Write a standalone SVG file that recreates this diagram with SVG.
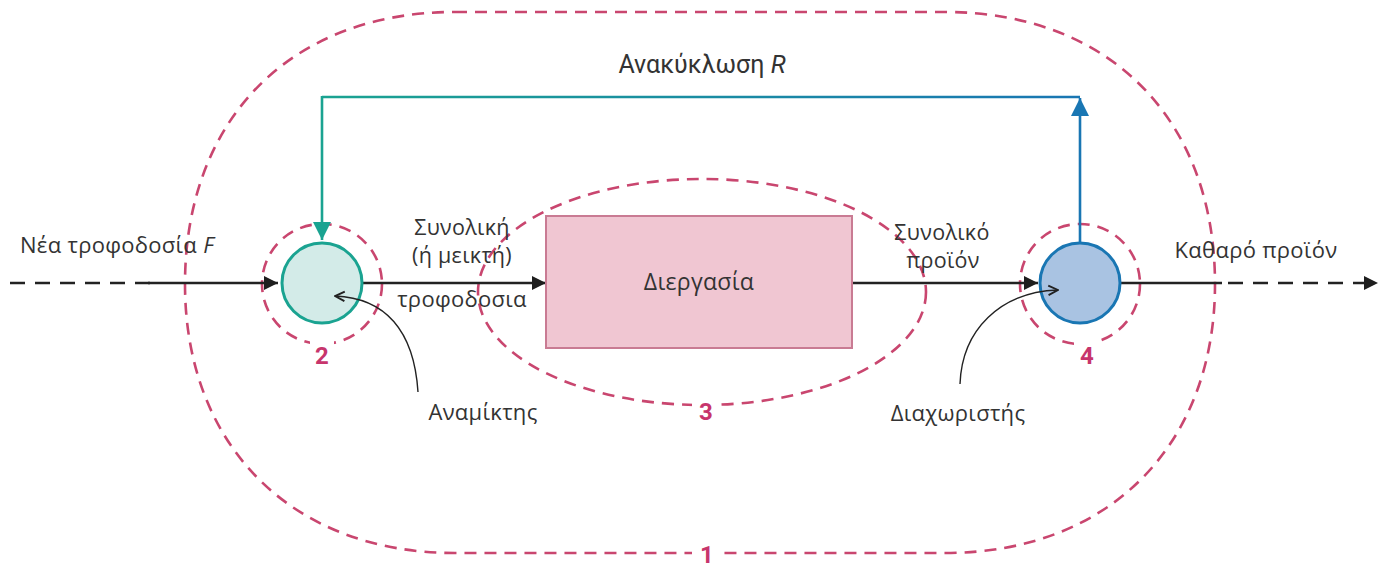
<svg xmlns="http://www.w3.org/2000/svg" width="1379" height="568" viewBox="0 0 1379 568">
<defs>
<style>
.bound{fill:none;stroke:#c9466f;stroke-width:2.6;stroke-dasharray:12 8}
.flow{fill:none;stroke:#222;stroke-width:2.6}
.dash{stroke-dasharray:15 10}
.lbl{font-family:"Open Sans",Roboto,"DejaVu Sans",sans-serif;font-size:22px;fill:#333;letter-spacing:0.3px}
.two{font-size:21.5px}
.num{font-family:Roboto,"DejaVu Sans",sans-serif;font-size:24px;font-weight:bold;fill:#c7356c;text-anchor:middle}
.thin{fill:none;stroke:#222;stroke-width:1.4}
</style>
<marker id="ah" viewBox="0 0 10 10" refX="10" refY="5" markerWidth="16" markerHeight="14" markerUnits="userSpaceOnUse" orient="auto"><path d="M0,0 L10,5 L0,10 Z" fill="#1e1e1e"/></marker>
<marker id="ahT" viewBox="0 0 10 10" refX="10" refY="5" markerWidth="30" markerHeight="18" markerUnits="userSpaceOnUse" orient="auto"><path d="M0,0 L10,5 L0,10 Z" fill="#1aa391"/></marker>
<marker id="ahB" viewBox="0 0 10 10" refX="10" refY="5" markerWidth="30" markerHeight="18" markerUnits="userSpaceOnUse" orient="auto"><path d="M0,0 L10,5 L0,10 Z" fill="#1976b3"/></marker>
<marker id="ahs" viewBox="0 0 10 10" refX="9" refY="5" markerWidth="12" markerHeight="12" markerUnits="userSpaceOnUse" orient="auto"><path d="M1,1 L9,5 L1,9" fill="none" stroke="#222" stroke-width="1.6"/></marker>
<linearGradient id="rg" gradientUnits="userSpaceOnUse" x1="322" y1="97" x2="1080" y2="97"><stop offset="0" stop-color="#1aa391"/><stop offset="1" stop-color="#1976b3"/></linearGradient>
</defs>

<g id="boundaries">
<path id="boundary-1" class="bound" d="M455,12 H945 C1110,12 1215,120 1215,284 C1215,444 1110,553 945,553 H455 C290,553 185,444 185,284 C185,120 290,12 455,12 Z"/>
<ellipse id="boundary-3" class="bound" cx="702" cy="292" rx="224" ry="113"/>
<circle id="boundary-2" class="bound" cx="322" cy="284" r="60"/>
<circle id="boundary-4" class="bound" cx="1080" cy="284" r="60"/>
<rect x="692" y="541" width="30" height="27" fill="#fff"/>
<text class="num" x="707" y="563">1</text>
<rect x="692" y="395" width="28" height="28" fill="#fff"/>
<text class="num" x="706" y="420">3</text>
<rect x="310" y="338" width="24" height="28" fill="#fff"/>
<text class="num" x="322" y="364">2</text>
<rect x="1074" y="338" width="26" height="28" fill="#fff"/>
<text class="num" x="1087" y="364">4</text>
</g>

<g id="connectors">
<line class="flow dash" x1="10" y1="283" x2="150" y2="283"/>
<line class="flow" x1="148" y1="283" x2="278" y2="283" marker-end="url(#ah)"/>
<line class="flow" x1="362" y1="283" x2="546" y2="283" marker-end="url(#ah)"/>
<line class="flow" x1="852" y1="283" x2="1038" y2="283" marker-end="url(#ah)"/>
<line class="flow" x1="1120" y1="283" x2="1222" y2="283"/>
<line class="flow dash" x1="1228" y1="283" x2="1378" y2="283" marker-end="url(#ah)"/>
<path d="M322,97 H1080" fill="none" stroke="url(#rg)" stroke-width="2.6"/>
<line x1="322" y1="96" x2="322" y2="240" stroke="#1aa391" stroke-width="2.6" marker-end="url(#ahT)"/>
<line x1="1080" y1="242" x2="1080" y2="98" stroke="#1976b3" stroke-width="2.6" marker-end="url(#ahB)"/>
</g>

<g id="mixer">
<circle cx="322" cy="283" r="40" fill="#d3ebe8" stroke="#1aa391" stroke-width="3"/>
</g>
<g id="separator">
<circle cx="1080" cy="283" r="40" fill="#a9c3e2" stroke="#1976b3" stroke-width="3"/>
</g>
<g id="process">
<rect x="546" y="216" width="306" height="132" fill="#f0c6d2" stroke="#c97b93" stroke-width="2"/>
<text class="lbl" x="699" y="290" text-anchor="middle" style="font-size:23px">Διεργασία</text>
</g>

<g id="pointers">
<path class="thin" d="M418,392 C414,330 385,298 335,296" marker-end="url(#ahs)"/>
<path class="thin" d="M960,384 C962,330 1000,292 1058,290" marker-end="url(#ahs)"/>
</g>

<g id="labels">
<text class="lbl" x="20" y="253">Νέα τροφοδοσία <tspan font-style="italic">F</tspan></text>
<text class="lbl two" text-anchor="middle"><tspan x="462" y="235">Συνολική</tspan><tspan x="462" y="263">(ή μεικτή)</tspan></text>
<text class="lbl" x="462" y="307" text-anchor="middle">τροφοδοσια</text>
<text class="lbl two" text-anchor="middle"><tspan x="942" y="240">Συνολικό</tspan><tspan x="943" y="268">προϊόν</tspan></text>
<text class="lbl" x="1256" y="258" text-anchor="middle">Καθαρό προϊόν</text>
<text class="lbl" x="702" y="73" text-anchor="middle" style="font-family:Roboto,'Open Sans',sans-serif;font-size:25px;letter-spacing:0">Ανακύκλωση <tspan font-style="italic">R</tspan></text>
<text class="lbl" x="483" y="420" text-anchor="middle">Αναμίκτης</text>
<text class="lbl" x="958" y="421" text-anchor="middle">Διαχωριστής</text>
</g>
</svg>
